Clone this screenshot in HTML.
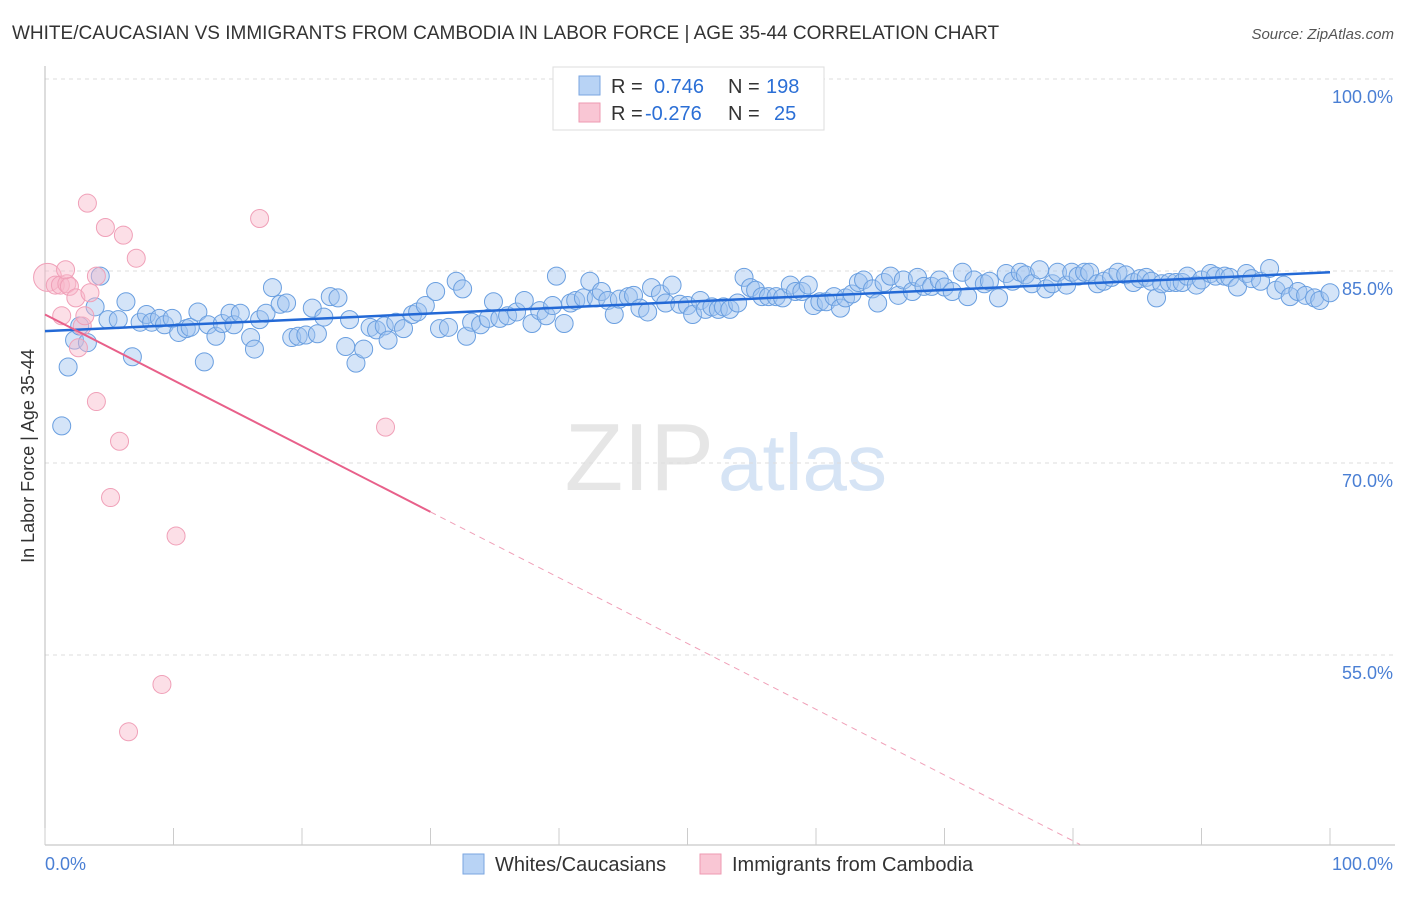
<!DOCTYPE html>
<html><head><meta charset="utf-8"><style>
body{margin:0;background:#fff;font-family:"Liberation Sans",sans-serif}
svg text{font-family:"Liberation Sans",sans-serif}
</style></head><body>
<svg id="chart" width="1406" height="892" viewBox="0 0 1406 892" xmlns="http://www.w3.org/2000/svg">
<text x="12" y="39" font-size="19" fill="#333">WHITE/CAUCASIAN VS IMMIGRANTS FROM CAMBODIA IN LABOR FORCE | AGE 35-44 CORRELATION CHART</text>
<text x="1394" y="39" font-size="15" fill="#555" text-anchor="end" font-style="italic">Source: ZipAtlas.com</text>
<text x="714" y="490" font-size="96" fill="#e6e6e6" text-anchor="end" font-family="Liberation Serif">ZIP</text>
<text x="718" y="490" font-size="80" fill="#d6e4f5">atlas</text>
<g id="grid"></g>
<g id="axes"></g>
<g id="pts"></g>
<g id="lines"></g>
<text transform="translate(34,456) rotate(-90)" font-size="18" fill="#333" text-anchor="middle">In Labor Force | Age 35-44</text>
<g>
<rect x="553" y="67" width="271" height="63" fill="#fff" stroke="#ddd"/>
<rect x="579" y="76" width="21" height="19" fill="#b8d3f5" stroke="#7aa6e0"/>
<rect x="579" y="103" width="21" height="19" fill="#f9c6d4" stroke="#ee9ab2"/>
<text x="611" y="93" font-size="20" fill="#333">R =</text><text x="654" y="93" font-size="20" fill="#2b6fd6">0.746</text>
<text x="728" y="93" font-size="20" fill="#333">N =</text><text x="766" y="93" font-size="20" fill="#2b6fd6">198</text>
<text x="611" y="120" font-size="20" fill="#333">R =</text><text x="645" y="120" font-size="20" fill="#2b6fd6">-0.276</text>
<text x="728" y="120" font-size="20" fill="#333">N =</text><text x="774" y="120" font-size="20" fill="#2b6fd6">25</text>
</g>
<g>
<rect x="463" y="854" width="21" height="20" fill="#b8d3f5" stroke="#7aa6e0"/>
<text x="495" y="871" font-size="20" fill="#333">Whites/Caucasians</text>
<rect x="700" y="854" width="21" height="20" fill="#f9c6d4" stroke="#ee9ab2"/>
<text x="732" y="871" font-size="20" fill="#333">Immigrants from Cambodia</text>
</g>
<text x="45" y="870" font-size="18" fill="#4a7fd4">0.0%</text>
<text x="1393" y="870" font-size="18" fill="#4a7fd4" text-anchor="end">100.0%</text>
</svg>
<script>
const yTicks=[100,85,70,55];
const blueX=[1.3,1.8,2.3,2.7,3.3,3.9,4.3,4.9,5.7,6.3,6.8,7.4,7.9,8.3,8.9,9.3,9.9,10.4,11.0,11.3,11.9,12.4,12.7,13.3,13.8,14.4,14.7,15.2,16.0,16.3,16.7,17.2,17.7,18.3,18.8,19.2,19.7,20.3,20.8,21.2,21.7,22.2,22.8,23.4,23.7,24.2,24.8,25.3,25.8,26.4,26.7,27.3,27.9,28.6,29.0,29.6,30.4,30.7,31.4,32.0,32.5,32.8,33.2,33.9,34.5,34.9,35.4,36.0,36.7,37.3,37.9,38.5,39.0,39.5,39.8,40.4,40.9,41.3,41.9,42.4,42.9,43.3,43.8,44.3,44.7,45.4,45.8,46.3,46.9,47.2,47.9,48.3,48.8,49.4,50.0,50.4,51.0,51.4,51.9,52.4,52.8,53.3,53.9,54.4,54.9,55.3,55.8,56.3,56.9,57.4,58.0,58.4,58.9,59.4,59.8,60.3,60.8,61.4,61.9,62.3,62.8,63.3,63.7,64.4,64.8,65.3,65.8,66.4,66.8,67.5,67.9,68.4,69.0,69.6,70.0,70.6,71.4,71.8,72.3,73.1,73.5,74.2,74.8,75.3,75.9,76.3,76.8,77.4,77.9,78.4,78.8,79.5,79.9,80.4,80.9,81.3,81.9,82.4,83.0,83.5,84.1,84.7,85.2,85.7,86.1,86.5,86.9,87.5,88.0,88.5,88.9,89.6,90.0,90.7,91.1,91.8,92.2,92.8,93.5,93.9,94.6,95.3,95.8,96.4,96.9,97.5,98.1,98.8,99.2,100];
const blueY=[72.9,77.5,79.6,80.7,79.4,82.2,84.6,81.2,81.2,82.6,78.3,81.0,81.6,81.0,81.3,80.8,81.3,80.2,80.5,80.6,81.8,77.9,80.8,79.9,80.9,81.7,80.8,81.7,79.8,78.9,81.2,81.7,83.7,82.4,82.5,79.8,79.9,80.0,82.1,80.1,81.4,83.0,82.9,79.1,81.2,77.8,78.9,80.6,80.4,80.7,79.6,81.0,80.5,81.6,81.8,82.3,83.4,80.5,80.6,84.2,83.6,79.9,81.0,80.8,81.3,82.6,81.3,81.5,81.8,82.7,80.9,81.9,81.5,82.3,84.6,80.9,82.5,82.7,82.9,84.2,82.9,83.4,82.7,81.6,82.8,83.0,83.1,82.1,81.8,83.7,83.2,82.5,83.9,82.4,82.3,81.6,82.7,82.0,82.2,82.0,82.2,82.0,82.5,84.5,83.7,83.5,83.0,83.0,83.0,82.9,83.9,83.4,83.4,83.9,82.3,82.6,82.6,83.0,82.1,82.9,83.2,84.1,84.3,83.6,82.5,84.1,84.6,83.1,84.3,83.4,84.5,83.8,83.8,84.3,83.75,83.4,84.9,83.0,84.3,84.0,84.2,82.9,84.8,84.2,84.9,84.7,84.0,85.1,83.6,84.0,84.9,83.9,84.9,84.6,84.9,84.9,84.0,84.2,84.5,84.9,84.7,84.1,84.4,84.5,84.2,82.9,84.0,84.1,84.1,84.1,84.6,83.9,84.3,84.8,84.6,84.6,84.5,83.75,84.8,84.4,84.2,85.2,83.5,83.9,83.0,83.4,83.1,82.9,82.7,83.3];
const pinkX=[0.2,0.8,1.2,1.7,1.9,1.6,1.3,2.4,2.9,2.6,3.1,3.5,3.3,4.0,4.0,4.7,5.1,5.8,6.1,7.1,10.2,9.1,6.5,16.7,26.5];
const pinkY=[84.5,83.9,83.9,84.0,83.8,85.1,81.5,82.9,80.7,79.0,81.5,83.3,90.3,84.6,74.8,88.4,67.3,71.7,87.8,86.0,64.3,52.7,49.0,89.1,72.8];
const blueFit=[80.3,84.9];
const pinkFit=[81.6,-0.514];
const X0=45,X1=1330,Y100=79,PXPER=12.8;
const sx=v=>X0+(X1-X0)*v/100;
const sy=v=>Y100+(100-v)*PXPER;
const NS='http://www.w3.org/2000/svg';
function mk(tag,attrs,parent){const e=document.createElementNS(NS,tag);for(const k in attrs)e.setAttribute(k,attrs[k]);parent.appendChild(e);return e;}
const grid=document.getElementById('grid'),axes=document.getElementById('axes'),pts=document.getElementById('pts'),lines=document.getElementById('lines');
yTicks.forEach(t=>{
 const l=mk('line',{x1:45,x2:1395,y1:sy(t),y2:sy(t),stroke:'#ddd','stroke-dasharray':'4,4'},grid);
 
 
 const tx=mk('text',{x:1393,y:sy(t)+24,'font-size':18,fill:'#4a7fd4','text-anchor':'end'},grid);
 tx.textContent=t.toFixed(1)+'%';
 
 
});
const ya=mk('line',{x1:45,x2:45,y1:66,y2:845,stroke:'#bbb'},axes);


const xa=mk('line',{x1:45,x2:1395,y1:845,y2:845,stroke:'#bbb'},axes);


for(let i=0;i<=10;i++){const tk=mk('line',{x1:sx(i*10),x2:sx(i*10),y1:828,y2:845,stroke:'#ccc'},axes);
 
 }
blueX.forEach((x,i)=>{const c=mk('circle',{cx:sx(x),cy:sy(blueY[i]),r:9,fill:'rgba(160,196,240,0.45)',stroke:'#6a9fe0','stroke-width':1},pts);
 
 });
pinkX.forEach((x,i)=>{const c=mk('circle',{cx:sx(x),cy:sy(pinkY[i]),r:i==0?14:9,fill:'rgba(248,184,202,0.45)',stroke:'#f0a0b8','stroke-width':1},pts);
 
 });
const bl=mk('line',{x1:sx(0),y1:sy(blueFit[0]),x2:sx(100),y2:sy(blueFit[1]),stroke:'#2369d6','stroke-width':2.5},lines);


const pf=x=>pinkFit[0]+pinkFit[1]*x;
const xEnd=(pf(0)-40.2)/(-pinkFit[1]);
const pl=mk('line',{x1:sx(0),y1:sy(pf(0)),x2:sx(30),y2:sy(pf(30)),stroke:'#e8608a','stroke-width':2},lines);


const pd=mk('line',{x1:sx(30),y1:sy(pf(30)),x2:sx(xEnd),y2:sy(pf(xEnd)),stroke:'#f0a0b8','stroke-width':1,'stroke-dasharray':'6,5'},lines);


</script>
</body></html>
